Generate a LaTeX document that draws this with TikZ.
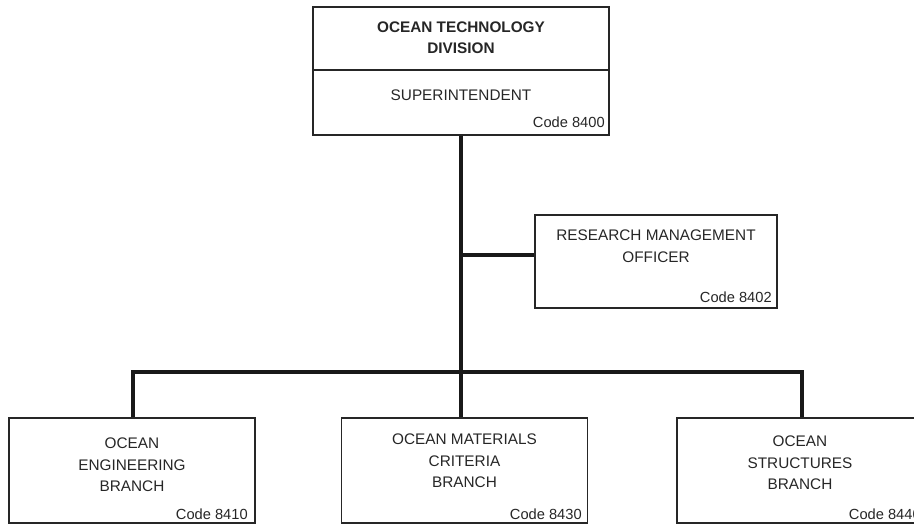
\documentclass[tikz,border=0pt]{standalone}
\usepackage{fontspec}
\setmainfont{Liberation Sans}
\begin{document}
\begin{tikzpicture}[x=0.75pt,y=-0.75pt,font=\fontsize{11.5}{16.2}\selectfont]
  \tikzset{
    unitbox/.style={draw=black!85,line width=1.1pt,inner sep=0pt,
      minimum width=184.5pt,minimum height=78.75pt},
    titletext/.style={align=center,inner sep=0pt,text=black!85},
    codetext/.style={anchor=base east,inner sep=0pt,text=black!85,
      font=\fontsize{11}{13}\selectfont},
    tie/.style={line width=3.1pt,draw=black!90,line cap=rect}
  }
  \useasboundingbox (0,0) rectangle (914,524);

  % division head
  \node[draw=black!85,line width=1.1pt,minimum width=222pt,minimum height=47.25pt]
    (division) at (461,38.5) {};
  \node[titletext,font=\fontsize{11.5}{16}\selectfont\bfseries] (divtext) at (461,37.5)
    {OCEAN TECHNOLOGY\\DIVISION};
  \node[draw=black!85,line width=1.1pt,minimum width=222pt,minimum height=48.75pt]
    (super) at (461,102.5) {};
  \node[titletext] (supertext) at (461,95) {SUPERINTENDENT};
  \node[codetext] (supercode) at (605,128) {Code 8400};

  % staff office
  \node[draw=black!85,line width=1.1pt,minimum width=181.5pt,minimum height=69.75pt]
    (rmo) at (656,261.5) {};
  \node[titletext] (rmotext) at (656,246) {RESEARCH MANAGEMENT\\OFFICER};
  \node[codetext] (rmocode) at (772,302) {Code 8402};

  % branches
  \node[unitbox] (engr) at (132,470.5) {};
  \node[titletext] (engrtext) at (132,465) {OCEAN\\ENGINEERING\\BRANCH};
  \node[codetext] (engrcode) at (248,519) {Code 8410};

  \node[unitbox] (matl) at (464.5,470.5) {};
  \node[titletext] (matltext) at (464.5,461) {OCEAN MATERIALS\\CRITERIA\\BRANCH};
  \node[codetext] (matlcode) at (582,519) {Code 8430};

  \node[unitbox,minimum width=187.5pt] (struct) at (802,470.5) {};
  \node[titletext] (structtext) at (800,463) {OCEAN\\STRUCTURES\\BRANCH};
  \node[codetext] (structcode) at (921,519) {Code 8440};

  % lines of authority
  \coordinate (hub) at (461,372);
  \coordinate (tap) at (461,255);
  \draw[tie,line cap=butt] (super.south) -- (hub);
  \draw[tie,line cap=butt] (tap) -- (tap -| rmo.west);
  \draw[tie,line cap=butt,line join=miter] (engr.north -| 133,0) |- (hub) -| (struct.north);
  \draw[tie,line cap=butt] (hub) -- (hub |- matl.north);
\end{tikzpicture}
\end{document}
